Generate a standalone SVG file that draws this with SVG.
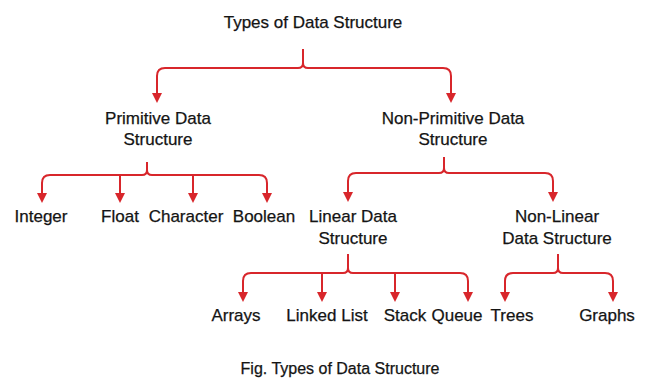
<svg xmlns="http://www.w3.org/2000/svg" width="646" height="383" viewBox="0 0 646 383">
<defs>
<style>
text{font-family:"Liberation Sans",Arial,Helvetica,sans-serif;font-size:17px;fill:#141414;stroke:#141414;stroke-width:0.25;text-anchor:middle}
.cap{font-size:16px}
.c{fill:none;stroke:#d8262b;stroke-width:2;stroke-linejoin:round;marker-end:url(#ah)}
</style>
<marker id="ah" viewBox="0 0 10 10" refX="5" refY="5" markerWidth="10" markerHeight="10" markerUnits="userSpaceOnUse" orient="auto">
<path d="M0,0 L10,5 L0,10 z" fill="#d8262b"/>
</marker>
</defs>
<rect width="646" height="383" fill="#ffffff"/>
<g id="connectors">
<path class="c" d="M303,49 V63 Q303,68 298,68 H165 Q157,68 157,76 V98"/>
<path class="c" d="M303,49 V63 Q303,68 308,68 H443 Q451,68 451,76 V98"/>
<path class="c" d="M147,162 V170 Q147,175 142,175 H50 Q42,175 42,183 V198"/>
<path class="c" d="M147,162 V170 Q147,175 152,175 H259 Q267,175 267,183 V198"/>
<path class="c" d="M120,175 V198"/>
<path class="c" d="M193,175 V198"/>
<path class="c" d="M444,157 V168 Q444,173 439,173 H356 Q348,173 348,181 V197"/>
<path class="c" d="M444,157 V168 Q444,173 449,173 H545 Q553,173 553,181 V197"/>
<path class="c" d="M348,254 V268 Q348,273 343,273 H251 Q243,273 243,281 V297"/>
<path class="c" d="M348,254 V268 Q348,273 353,273 H460 Q468,273 468,281 V297"/>
<path class="c" d="M322,273 V297"/>
<path class="c" d="M395,273 V297"/>
<path class="c" d="M558,254 V268 Q558,273 553,273 H513 Q505,273 505,281 V297"/>
<path class="c" d="M558,254 V268 Q558,273 563,273 H605 Q613,273 613,281 V297"/>
</g>
<g id="title"><text x="313" y="28">Types of Data Structure</text></g>
<g id="primitive"><text x="158" y="124">Primitive Data</text><text x="158" y="145">Structure</text></g>
<g id="non-primitive"><text x="453" y="124">Non-Primitive Data</text><text x="453" y="145">Structure</text></g>
<g id="integer"><text x="41" y="222">Integer</text></g>
<g id="float"><text x="120" y="222">Float</text></g>
<g id="character"><text x="186" y="222">Character</text></g>
<g id="boolean"><text x="264" y="222">Boolean</text></g>
<g id="linear"><text x="353" y="222">Linear Data</text><text x="353" y="244">Structure</text></g>
<g id="non-linear"><text x="557" y="222">Non-Linear</text><text x="557" y="244">Data Structure</text></g>
<g id="arrays"><text x="236" y="321">Arrays</text></g>
<g id="linked-list"><text x="327" y="321">Linked List</text></g>
<g id="stack"><text x="405" y="321">Stack</text></g>
<g id="queue"><text x="457" y="321">Queue</text></g>
<g id="trees"><text x="512" y="321">Trees</text></g>
<g id="graphs"><text x="607" y="321">Graphs</text></g>
<g id="caption"><text class="cap" x="340" y="374">Fig. Types of Data Structure</text></g>
</svg>
